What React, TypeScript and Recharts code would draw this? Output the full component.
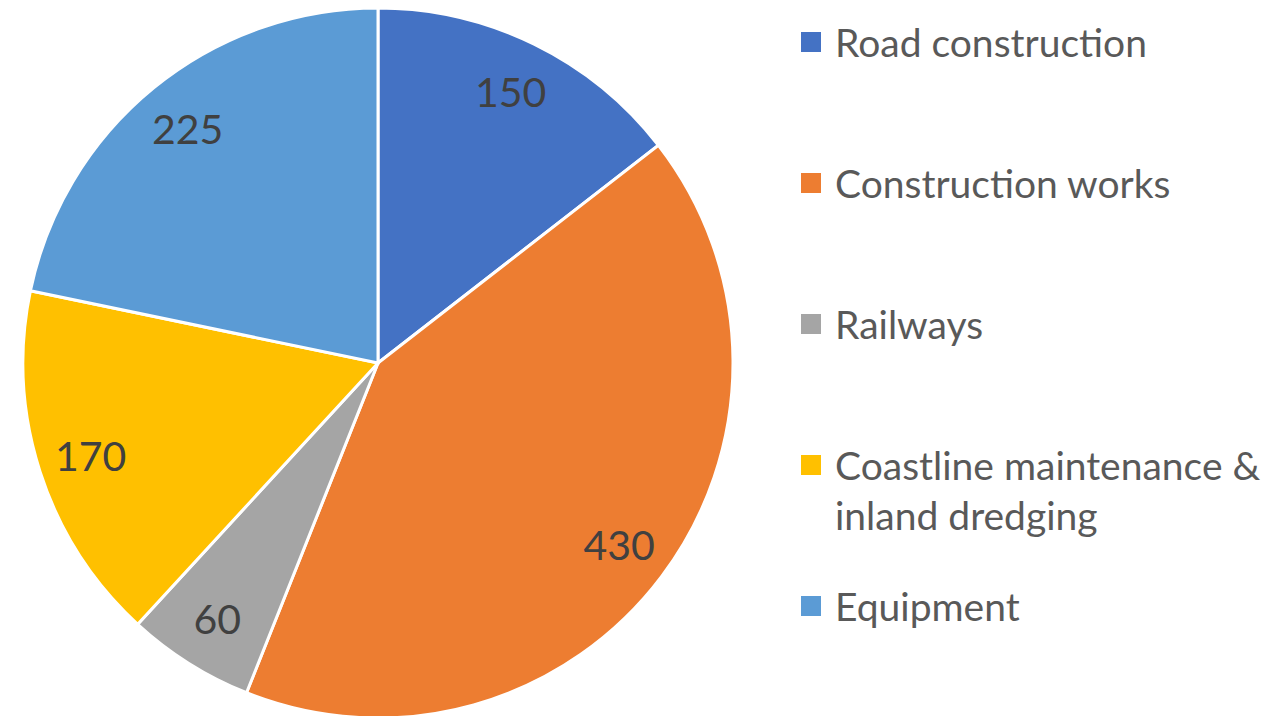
import { PieChart, Pie, Cell, Legend } from "recharts";

const categories = [
  "Road construction",
  "Construction works",
  "Railways",
  "Coastline maintenance & inland dredging",
  "Equipment",
];
const values = [150, 430, 60, 170, 225];
const colors = ["#4472C4", "#ED7D31", "#A5A5A5", "#FFC000", "#5B9BD5"];

const data = categories.map((name, i) => ({ name, value: values[i] }));

const RAD = Math.PI / 180;

function renderLabel(props: any) {
  const { cx, cy, midAngle, outerRadius, value } = props;
  const r = outerRadius * 0.85;
  const x = cx + r * Math.cos(-midAngle * RAD);
  const y = cy + r * Math.sin(-midAngle * RAD);
  return (
    <text
      x={x}
      y={y}
      fill="#404040"
      fontSize={41}
      fontFamily="Lato"
      textAnchor="middle"
      dominantBaseline="central"
    >
      {value}
    </text>
  );
}

function LegendContent() {
  return (
    <div style={{ fontFamily: "Lato", fontSize: 39, color: "#595959" }}>
      {categories.map((name, i) => (
        <div key={name} style={{ height: 141, display: "flex", alignItems: "flex-start" }}>
          <div
            style={{
              width: 20,
              height: 20,
              background: colors[i],
              marginTop: 15,
              marginRight: 14,
              flexShrink: 0,
            }}
          />
          <div style={{ width: 450, lineHeight: "50px" }}>{name}</div>
        </div>
      ))}
    </div>
  );
}

export default function App() {
  return (
    <div style={{ position: "absolute", left: 0, top: 0, background: "#fff" }}>
      <PieChart width={1288} height={716} margin={{ top: 0, right: 0, bottom: 0, left: 0 }}>
        <Pie
          data={data}
          dataKey="value"
          nameKey="name"
          cx={378}
          cy={363}
          outerRadius={355}
          startAngle={90}
          endAngle={-270}
          stroke="#fff"
          strokeWidth={3}
          label={renderLabel}
          labelLine={false}
          isAnimationActive={false}
        >
          {data.map((d, i) => (
            <Cell key={d.name} fill={colors[i]} />
          ))}
        </Pie>
        <Legend
          content={<LegendContent />}
          wrapperStyle={{ position: "absolute", left: 801, top: 17, width: 490 }}
        />
      </PieChart>
    </div>
  );
}
